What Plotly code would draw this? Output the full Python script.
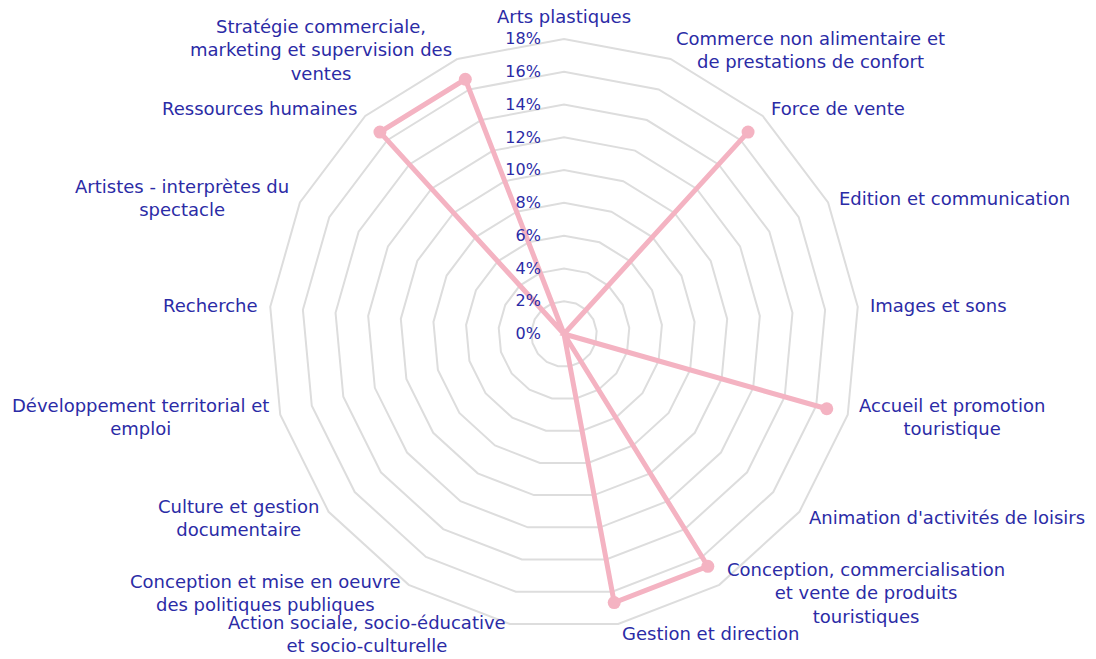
import math
import plotly.graph_objects as go

categories = [
    "Arts plastiques",
    "Commerce non alimentaire et<br>de prestations de confort",
    "Force de vente",
    "Edition et communication",
    "Images et sons",
    "Accueil et promotion<br>touristique",
    "Animation d'activités de loisirs",
    "Conception, commercialisation<br>et vente de produits<br>touristiques",
    "Gestion et direction",
    "Action sociale, socio-éducative<br>et socio-culturelle",
    "Conception et mise en oeuvre<br>des politiques publiques",
    "Culture et gestion<br>documentaire",
    "Développement territorial et<br>emploi",
    "Recherche",
    "Artistes - interprètes du<br>spectacle",
    "Ressources humaines",
    "Stratégie commerciale,<br>marketing et supervision des<br>ventes",
]
values = [0, 0, 16.67, 0, 0, 16.67, 0, 16.67, 16.67, 0, 0, 0, 0, 0, 0, 16.67, 16.67]
tick_vals = [0, 2, 4, 6, 8, 10, 12, 14, 16, 18]
tick_text = ["0%", "2%", "4%", "6%", "8%", "10%", "12%", "14%", "16%", "18%"]

text_color = "#2b2ba6"
font_family = "DejaVu Sans"

W, H = 1096, 659
ML, MR, MT, MB = 80, 48, 39, 30

fig = go.Figure()
fig.add_trace(go.Scatterpolar(
    r=values + values[:1],
    theta=categories + categories[:1],
    mode="lines+markers",
    line=dict(color="#f4b3c2", width=5),
    marker=dict(color="#f4b3c2", size=13),
    showlegend=False,
    hoverinfo="skip",
))

# category labels placed just outside each vertex of the polygon grid
pw, ph = W - ML - MR, H - MT - MB
R = min(pw, ph) / 2
cx, cy = ML + pw / 2, MT + ph / 2
pad = 10
n = len(categories)
annotations = []
for i, cat in enumerate(categories):
    th = 2 * math.pi * i / n
    s, c = math.sin(th), math.cos(th)
    px = cx + (R + pad) * s
    py = cy - (R + pad) * c
    if abs(s) < 0.01:
        xa, ya = "center", "bottom"
    else:
        xa = "left" if s > 0 else "right"
        ya = "middle"
    annotations.append(dict(
        x=(px - ML) / pw, y=1 - (py - MT) / ph, xref="paper", yref="paper",
        text=cat, showarrow=False, xanchor=xa, yanchor=ya, align="center",
        font=dict(family=font_family, size=18, color=text_color),
    ))

fig.update_layout(
    width=W, height=H,
    margin=dict(l=ML, r=MR, t=MT, b=MB),
    paper_bgcolor="white",
    plot_bgcolor="white",
    font=dict(family=font_family, size=16, color=text_color),
    annotations=annotations,
    polar=dict(
        bgcolor="white",
        gridshape="linear",
        radialaxis=dict(
            range=[0, 18],
            tickvals=tick_vals,
            ticktext=tick_text,
            angle=90,
            tickangle=90,
            side="counterclockwise",
            showline=False,
            ticks="outside",
            ticklen=17,
            tickcolor="rgba(0,0,0,0)",
            gridcolor="#dddddd",
            gridwidth=2,
            tickfont=dict(family=font_family, size=16, color=text_color),
        ),
        angularaxis=dict(
            direction="clockwise",
            rotation=90,
            showgrid=False,
            showline=True,
            linecolor="#dddddd",
            linewidth=2,
            ticks="",
            showticklabels=False,
        ),
    ),
)

fig.write_html("out.html", config={"displayModeBar": False},
               post_script="document.body.style.margin='0';")
